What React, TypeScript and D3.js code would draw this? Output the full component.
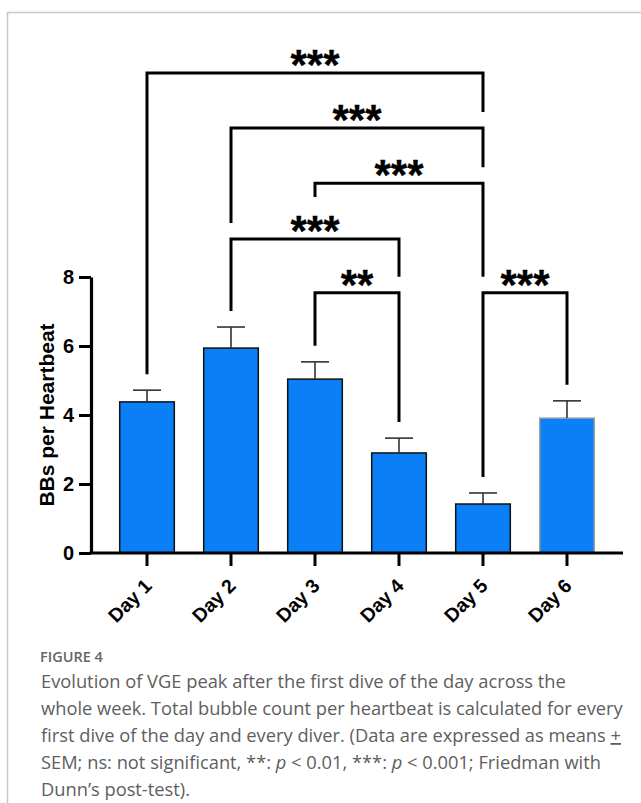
import { useEffect, useRef } from "react";
import * as d3 from "d3";

// bar data
const days = ["Day 1", "Day 2", "Day 3", "Day 4", "Day 5", "Day 6"];
const means = [4.38, 5.94, 5.04, 2.9, 1.42, 3.91];
const sems = [0.34, 0.61, 0.5, 0.43, 0.32, 0.5];
const yTicks = [0, 2, 4, 6, 8];

// significance brackets: from, to, label, height (in y units)
const compFrom = ["Day 3", "Day 5", "Day 2", "Day 3", "Day 2", "Day 1"];
const compTo = ["Day 4", "Day 6", "Day 4", "Day 5", "Day 5", "Day 5"];
const compLabel = ["**", "***", "***", "***", "***", "***"];
const compLevel = [7.54, 7.54, 9.1, 10.72, 12.32, 13.91];

const captionLines = [
  "Evolution of VGE peak after the first dive of the day across the",
  "whole week. Total bubble count per heartbeat is calculated for every",
  "first dive of the day and every diver. (Data are expressed as means ",
];

const W = 641;
const H = 803;
const BLUE = "#0a7ff6";

export default function App() {
  const ref = useRef<SVGSVGElement>(null);

  useEffect(() => {
    const svg = d3.select(ref.current);
    svg.selectAll("*").remove();

    const left = 91;
    const right = 623;
    const bottom = 553;
    const top = 277;

    const x = d3
      .scaleBand()
      .domain(days)
      .range([left, right])
      .paddingInner(0.35)
      .paddingOuter(0.3417);
    const y = d3.scaleLinear().domain([0, 8]).range([bottom, top]);
    const cx = (d: string) => (x(d) as number) + x.bandwidth() / 2;

    // frame
    svg
      .append("path")
      .attr("d", `M7.5,${H} V12.5 H${W}`)
      .attr("fill", "none")
      .attr("stroke", "#c8c8c8")
      .attr("stroke-width", 1.5);

    // bars
    svg
      .selectAll(".bar")
      .data(days)
      .join("rect")
      .attr("class", "bar")
      .attr("x", (d) => x(d) as number)
      .attr("width", x.bandwidth())
      .attr("y", (d, i) => y(means[i]))
      .attr("height", (d, i) => bottom - y(means[i]))
      .attr("fill", BLUE)
      .attr("stroke", (d, i) => (i === 5 ? "#a0a0a0" : "#111"))
      .attr("stroke-width", 1.5);

    // error bars (upper only)
    const err = svg.append("g").attr("stroke", "#333").attr("stroke-width", 1.6);
    days.forEach((d, i) => {
      const xc = cx(d);
      err
        .append("line")
        .attr("x1", xc)
        .attr("x2", xc)
        .attr("y1", y(means[i]))
        .attr("y2", y(means[i] + sems[i]));
      err
        .append("line")
        .attr("x1", xc - 14)
        .attr("x2", xc + 14)
        .attr("y1", y(means[i] + sems[i]))
        .attr("y2", y(means[i] + sems[i]));
    });

    // y axis
    const yAxis = d3
      .axisLeft(y)
      .tickValues(yTicks)
      .tickSize(12)
      .tickSizeOuter(0)
      .tickPadding(5);
    const gy = svg.append("g").attr("transform", `translate(${left},0)`).call(yAxis);
    gy.select(".domain").attr("stroke-width", 3.2).attr("stroke", "#000");
    gy.selectAll(".tick line").attr("stroke-width", 3).attr("stroke", "#000");
    gy.selectAll(".tick text")
      .attr("font-family", "Liberation Sans, Arial, sans-serif")
      .attr("font-weight", "bold")
      .attr("font-size", 20)
      .attr("fill", "#000");

    // x axis
    svg
      .append("line")
      .attr("x1", left - 1.5)
      .attr("x2", right)
      .attr("y1", bottom)
      .attr("y2", bottom)
      .attr("stroke", "#000")
      .attr("stroke-width", 3.2);
    const gx = svg.append("g");
    days.forEach((d) => {
      gx.append("line")
        .attr("x1", cx(d))
        .attr("x2", cx(d))
        .attr("y1", bottom)
        .attr("y2", bottom + 13)
        .attr("stroke", "#000")
        .attr("stroke-width", 3);
      gx.append("text")
        .attr("transform", `translate(${cx(d) + 6},${bottom + 34}) rotate(-45)`)
        .attr("text-anchor", "end")
        .attr("font-family", "Liberation Sans, Arial, sans-serif")
        .attr("font-weight", "bold")
        .attr("font-size", 19.5)
        .text(d);
    });

    // y label
    svg
      .append("text")
      .attr("transform", `translate(54,${(top + bottom) / 2}) rotate(-90)`)
      .attr("text-anchor", "middle")
      .attr("font-family", "Liberation Sans, Arial, sans-serif")
      .attr("font-weight", "bold")
      .attr("font-size", 21)
      .text("BBs per Heartbeat");

    // significance brackets
    const gap = 16;
    const labelHalf = 24;
    const labelRise = 26;
    const idx = (d: string) => days.indexOf(d);
    const legEnd = (k: number, d: string) => {
      const xc = cx(d);
      let ob = y(means[idx(d)] + sems[idx(d)]);
      compFrom.forEach((f, j) => {
        if (compLevel[j] >= compLevel[k]) return;
        const a = idx(f);
        const b = idx(compTo[j]);
        if (idx(d) >= a && idx(d) <= b) ob = Math.min(ob, y(compLevel[j]));
        const mid = (cx(f) + cx(compTo[j])) / 2;
        if (Math.abs(xc - mid) <= labelHalf) ob = Math.min(ob, y(compLevel[j]) - labelRise);
      });
      return ob - gap;
    };
    const br = svg.append("g");
    compFrom.forEach((f, k) => {
      const t = compTo[k];
      const yl = y(compLevel[k]);
      const x1 = cx(f);
      const x2 = cx(t);
      br.append("path")
        .attr("d", `M${x1},${legEnd(k, f)} V${yl} H${x2} V${legEnd(k, t)}`)
        .attr("fill", "none")
        .attr("stroke", "#000")
        .attr("stroke-width", 3);
      br.append("text")
        .attr("x", (x1 + x2) / 2)
        .attr("y", yl + 6)
        .attr("text-anchor", "middle")
        .attr("font-family", "Liberation Sans, Arial, sans-serif")
        .attr("font-weight", "bold")
        .attr("font-size", 42)
        .attr("stroke", "#000")
        .attr("stroke-width", 0.3)
        .text(compLabel[k]);
    });

    // caption
    const capFont = "Open Sans, sans-serif";
    const capSize = 18.3;
    const cap = svg
      .append("g")
      .attr("font-family", capFont)
      .attr("fill", "#5e5e5e");
    cap.append("text")
      .attr("x", 40)
      .attr("y", 662)
      .attr("font-size", 14.5)
      .attr("font-weight", 600)
      .attr("fill", "#666")
      .text("FIGURE 4");
    const lineY = [688, 715, 742, 769, 796];
    captionLines.forEach((l, i) => {
      const t = cap.append("text").attr("x", 41).attr("y", lineY[i]).attr("font-size", capSize);
      t.append("tspan").text(l);
      if (i === 2) t.append("tspan").attr("text-decoration", "underline").text("+");
    });
    const l4 = cap.append("text").attr("x", 41).attr("y", lineY[3]).attr("font-size", capSize);
    l4.append("tspan").text("SEM; ns: not significant, **: ");
    l4.append("tspan").attr("font-style", "italic").text("p");
    l4.append("tspan").text(" < 0.01, ***: ");
    l4.append("tspan").attr("font-style", "italic").text("p");
    l4.append("tspan").text(" < 0.001; Friedman with");
    cap.append("text")
      .attr("x", 41)
      .attr("y", lineY[4])
      .attr("font-size", capSize)
      .text("Dunn\u2019s post-test).");
  }, []);

  return (
    <svg
      ref={ref}
      width={W}
      height={H}
      style={{ position: "absolute", left: 0, top: 0, background: "#fff" }}
    />
  );
}
